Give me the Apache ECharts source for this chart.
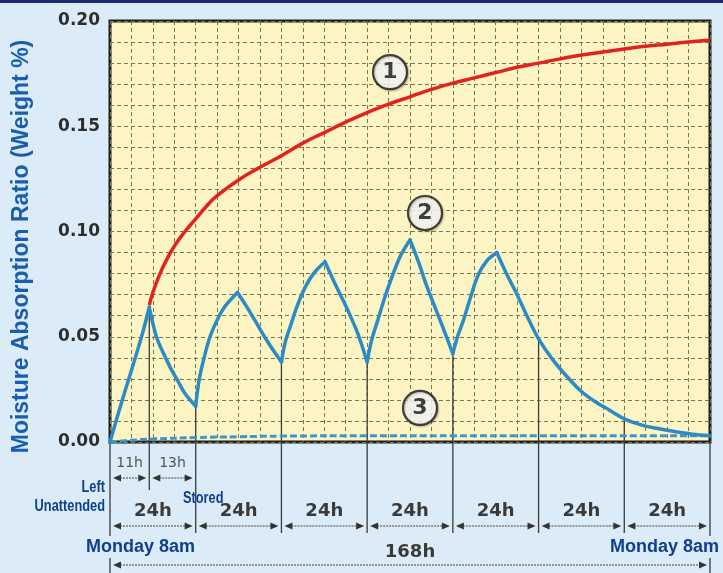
<!DOCTYPE html>
<html>
<head>
<meta charset="utf-8">
<script src="https://cdn.jsdelivr.net/npm/echarts@6/dist/echarts.min.js"></script>
<style>
  html, body { margin: 0; padding: 0; background: #dbecf8; }
  #chart { width: 723px; height: 573px; }
</style>
</head>
<body>
<div id="chart"></div>
<script>
// curve 1: continuous exposure (red)
var curve1 = [[11, 0.065], [12, 0.071], [14, 0.080], [16, 0.087], [18, 0.093], [21, 0.100], [24, 0.106],
  [27, 0.112], [30, 0.117], [36, 0.1245], [42, 0.1305], [48, 0.136], [54, 0.142], [60, 0.147], [66, 0.152],
  [72, 0.1565], [78, 0.1605], [84, 0.164], [90, 0.1675], [96, 0.1705], [102, 0.173], [108, 0.1755], [114, 0.178],
  [120, 0.180], [126, 0.182], [132, 0.1838], [138, 0.1853], [144, 0.1867], [150, 0.188], [156, 0.189],
  [162, 0.190], [168, 0.1908]];

// curve 2: left unattended 11h / stored 13h cycles (blue)
var curve2 = [[0, 0], [3, 0.0175], [6, 0.034], [9, 0.051], [11, 0.064],
  [13, 0.050], [15, 0.042], [17, 0.035], [19, 0.029], [21, 0.023], [24, 0.017],
  [25, 0.030], [26.5, 0.041], [28, 0.050], [30, 0.058], [32, 0.064], [34, 0.068], [35.7, 0.071],
  [38, 0.065], [40.5, 0.058], [44, 0.048], [48, 0.038],
  [49, 0.047], [50.5, 0.055], [52.5, 0.065], [54.5, 0.073], [57, 0.080], [60.2, 0.0856],
  [62.5, 0.077], [64.5, 0.070], [67, 0.061], [69.5, 0.051], [72, 0.038],
  [73.2, 0.048], [75, 0.058], [77, 0.069], [79.3, 0.080], [81.5, 0.089], [84, 0.096],
  [86.5, 0.085], [88.7, 0.074], [92.4, 0.058], [96, 0.042],
  [97.3, 0.050], [99, 0.058], [101, 0.069], [103, 0.079], [105.5, 0.086], [108.3, 0.090],
  [111, 0.080], [114, 0.070], [117, 0.059], [120, 0.049], [124, 0.039], [128, 0.031], [132, 0.024],
  [136, 0.019], [140, 0.015], [144, 0.011], [148, 0.0085], [153, 0.0065], [158, 0.005], [163, 0.0037],
  [168, 0.003]];

// curve 3: stored in a sealed box (dashed)
var curve3 = [[0, 0], [6, 0.0008], [12, 0.0014], [24, 0.0021], [36, 0.0025], [48, 0.0028], [72, 0.003],
  [96, 0.003], [120, 0.003], [144, 0.003], [168, 0.003]];

var guideHours = [11, 24, 48, 72, 96, 120, 144];
var edgeHours = [0, 168];
var spansShort = [[0, 11, '11h'], [11, 24, '13h']];
var spansDay = [[0, 24, '24h'], [24, 48, '24h'], [48, 72, '24h'], [72, 96, '24h'], [96, 120, '24h'], [120, 144, '24h'], [144, 168, '24h']];
var spansWeek = [[0, 168, '168h']];
var circleMarks = [[78.4, 0.1757, '1'], [88.2, 0.1088, '2'], [86.8, 0.0162, '3']];

var blueText = '#1a5caf';
var navy = '#0e3f8e';
var pageBg = '#dbecf8';

function valueAt(h) {
  for (var i = 0; i < curve2.length; i++) if (curve2[i][0] === h) return curve2[i][1];
  return 0;
}

// split curve 2 at its peaks and troughs so each rising / falling run can be smoothed
function splitRuns(pts) {
  var runs = [], cur = [pts[0]];
  for (var i = 1; i < pts.length; i++) {
    cur.push(pts[i]);
    var next = pts[i + 1];
    if (next && (pts[i][1] - pts[i - 1][1]) * (next[1] - pts[i][1]) < 0) {
      runs.push(cur);
      cur = [pts[i]];
    }
  }
  runs.push(cur);
  return runs;
}

var guideData = guideHours.map(function (h) { return [h, valueAt(h), h === 11 ? 48 : 91]; });
edgeHours.forEach(function (h) { guideData.push([h, 0, 131]); });

function guideItem(params, api) {
  var top = api.coord([api.value(0), api.value(1)]);
  var base = api.coord([api.value(0), 0]);
  return {
    type: 'line',
    shape: { x1: top[0], y1: top[1], x2: top[0], y2: base[1] + api.value(2) },
    style: { stroke: '#3a3a3a', lineWidth: 1.3 }
  };
}

function makeSpanItem(list, labelOff, arrowOff, font, color) {
  return function (params, api) {
    var s = list[params.dataIndex];
    var p0 = api.coord([s[0], 0]);
    var x1 = api.coord([s[1], 0])[0];
    var a = p0[0] + 3, b = x1 - 3, y = p0[1] + arrowOff;
    return {
      type: 'group',
      children: [
        { type: 'line', shape: { x1: a + 4, y1: y, x2: b - 4, y2: y }, style: { stroke: '#444', lineWidth: 1.2, lineDash: [2, 1] } },
        { type: 'polygon', shape: { points: [[a, y], [a + 8, y - 3.5], [a + 8, y + 3.5]] }, style: { fill: '#333' } },
        { type: 'polygon', shape: { points: [[b, y], [b - 8, y - 3.5], [b - 8, y + 3.5]] }, style: { fill: '#333' } },
        { type: 'text', style: { text: s[2], x: (a + b) / 2, y: p0[1] + labelOff, align: 'center', verticalAlign: 'middle', font: font, fill: color } }
      ]
    };
  };
}

function spanSeries(list, labelOff, arrowOff, font, color) {
  return {
    type: 'custom', clip: false, silent: true, z: 2,
    renderItem: makeSpanItem(list, labelOff, arrowOff, font, color),
    data: list.map(function (s) { return [s[0], s[1]]; })
  };
}

var series = [
  { type: 'custom', clip: false, silent: true, z: 2, renderItem: guideItem, data: guideData },
  spanSeries(spansShort, 21, 36, '14px DejaVu Sans, sans-serif', '#555'),
  spanSeries(spansDay, 69, 84, 'bold 18px DejaVu Sans, sans-serif', '#3a3a3a'),
  spanSeries(spansWeek, 110, 123, 'bold 18px DejaVu Sans, sans-serif', '#3a3a3a'),
  {
    name: '3', type: 'line', data: curve3, smooth: 0.4, symbol: 'none', z: 3,
    lineStyle: { color: '#3d97cf', width: 3, type: [7, 3] }
  }
];
splitRuns(curve2).forEach(function (run) {
  series.push({
    name: '2', type: 'line', data: run, smooth: 0.35, symbol: 'none', z: 4,
    lineStyle: { color: '#2a8bc5', width: 3.5, cap: 'round' }
  });
});
series.push({
  name: '1', type: 'line', data: curve1, smooth: 0.5, symbol: 'none', z: 5,
  lineStyle: { color: '#e2231d', width: 3.5 }
});
series.push({
  type: 'scatter', z: 6, silent: true,
  data: circleMarks.map(function (m) { return { value: [m[0], m[1]], name: m[2] }; }),
  symbol: 'circle', symbolSize: 34,
  itemStyle: { color: '#ffffff', borderColor: '#1a1a1a', borderWidth: 2.2, shadowColor: 'rgba(0,0,0,0.3)', shadowBlur: 2, shadowOffsetX: 1, shadowOffsetY: 1 },
  label: { show: true, position: 'inside', formatter: '{b}', color: '#111', fontSize: 22, fontWeight: 'bold', fontFamily: 'DejaVu Sans, sans-serif' }
});

var chart = echarts.init(document.getElementById('chart'), null, { renderer: 'canvas' });
chart.setOption({
  animation: false,
  backgroundColor: pageBg,
  grid: {
    left: 110, top: 21, width: 600, height: 421,
    show: true, backgroundColor: '#fdf4c3', borderColor: '#1f1f1f', borderWidth: 3
  },
  xAxis: {
    type: 'value', min: 0, max: 168, interval: 6,
    axisLine: { show: false }, axisTick: { show: false }, axisLabel: { show: false },
    splitLine: { show: true, lineStyle: { color: '#7d7352', width: 1, type: [4, 3] } }
  },
  yAxis: {
    type: 'value', min: 0, max: 0.2, interval: 0.01,
    name: 'Moisture Absorption Ratio (Weight %)',
    nameLocation: 'middle', nameGap: 77,
    nameTextStyle: { color: blueText, fontSize: 23, fontWeight: 'bold', fontFamily: 'Liberation Sans, Arial, sans-serif', padding: [0, 30, 0, 0] },
    axisLine: { show: false }, axisTick: { show: false },
    axisLabel: {
      margin: 10, color: '#2e2e2e', fontSize: 17, fontWeight: 'bold', fontFamily: 'DejaVu Sans, sans-serif',
      formatter: function (v) { return Math.round(v * 100) % 5 === 0 ? v.toFixed(2) : ''; }
    },
    splitLine: { show: true, lineStyle: { color: '#7d7352', width: 1, type: [4, 3] } }
  },
  graphic: [
    { type: 'rect', shape: { x: 0, y: 0, width: 723, height: 3 }, style: { fill: '#1c2a6e' } },
    { type: 'text', x: 86, y: 536, z: 10, style: { text: 'Monday 8am', font: 'bold 18px Liberation Sans, Arial, sans-serif', fill: navy, backgroundColor: pageBg, padding: [2, 0, 2, 0] } },
    { type: 'text', x: 610, y: 536, z: 10, style: { text: 'Monday 8am', font: 'bold 18px Liberation Sans, Arial, sans-serif', fill: navy, backgroundColor: pageBg, padding: [2, 0, 2, 0] } },
    { type: 'text', x: 105, y: 478, scaleX: 0.8, style: { x: 0, y: 0, text: 'Left\nUnattended', align: 'right', lineHeight: 19, font: 'bold 16px Liberation Sans, Arial, sans-serif', fill: navy } },
    { type: 'text', x: 183, y: 491, scaleX: 0.8, style: { x: 0, y: 0, text: 'Stored', font: 'bold 16px Liberation Sans, Arial, sans-serif', fill: navy } }
  ],
  series: series
});
window.addEventListener('resize', function () { chart.resize(); });
</script>
</body>
</html>
